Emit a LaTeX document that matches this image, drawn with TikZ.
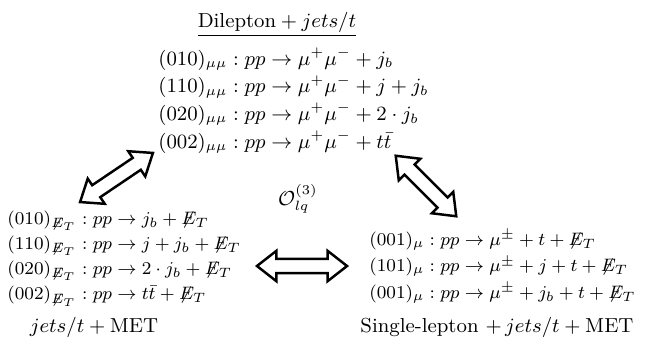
\documentclass[tikz,border=0pt]{standalone}
\usepackage{amsmath,amssymb,mathtools}
\usepackage{xcolor}
\usepackage{tikz}
\usetikzlibrary{shapes.arrows,positioning,calc}
\newcommand{\metT}{\mathrlap{\not}E_T}

\tikzset{
  proc/.style={anchor=base west, inner sep=0pt, font=\small},
  metproc/.style={proc, font=\fontsize{8.5}{10}\selectfont},
  chanlbl/.style={anchor=base, inner sep=0pt, font=\small},
  bigarrow/.style={draw, double arrow, line width=1.1pt, inner sep=2.65pt,
    minimum width=12.4pt, double arrow head extend=3.55pt,
    double arrow tip angle=76},
}

\begin{document}
\begin{tikzpicture}[x=0.444pt, y=-0.444pt]
  \useasboundingbox (0,0) rectangle (654,353);

  % Dilepton channel
  \node[chanlbl] (dilep) at (277, 27) {$\underline{\text{Dilepton} + jets/t}$};
  \foreach \proc [count=\k] in {
      {(010)_{\mu\mu} : pp \to \mu^+\mu^- + j_b},
      {(110)_{\mu\mu} : pp \to \mu^+\mu^- + j + j_b},
      {(020)_{\mu\mu} : pp \to \mu^+\mu^- + 2 \cdot j_b},
      {(002)_{\mu\mu} : pp \to \mu^+\mu^- + t\bar{t}}} {
    \node[proc] (mm\k) at (158, {65 + 27.8*(\k-1)}) {$\proc$};
  }

  % MET channel
  \foreach \proc [count=\k] in {
      {(010)_{\metT} : pp \to j_b + \metT},
      {(110)_{\metT} : pp \to j + j_b + \metT},
      {(020)_{\metT} : pp \to 2 \cdot j_b + \metT},
      {(002)_{\metT} : pp \to t\bar{t} + \metT}} {
    \node[metproc] (met\k) at (7, {224 + 25.3*(\k-1)}) {$\proc$};
  }
  \node[chanlbl] (metlbl) at (94, 332) {$jets/t + \text{MET}$};

  % Single-lepton channel
  \foreach \proc [count=\k] in {
      {(001)_{\mu} : pp \to \mu^\pm + t + \metT},
      {(101)_{\mu} : pp \to \mu^\pm + j + t + \metT},
      {(001)_{\mu} : pp \to \mu^\pm + j_b + t + \metT}} {
    \node[metproc] (mu\k) at (369, {245 + 26.5*(\k-1)}) {$\proc$};
  }
  \node[chanlbl] (mulbl) at (497, 332) {Single-lepton $+\, jets/t + \text{MET}$};

  % Operator
  \node[font=\small] (op) at (298, 199) {$\mathcal{O}_{lq}^{(3)}$};

  % Arrows between channels
  \node[bigarrow, minimum height=39pt, rotate=34] (arrL) at (116.5, 177.5) {};
  \node[bigarrow, minimum height=38pt, rotate=-45] (arrR) at (426, 186) {};
  \node[bigarrow, minimum height=40pt] (arrH) at (302, 266) {};
\end{tikzpicture}
\end{document}
